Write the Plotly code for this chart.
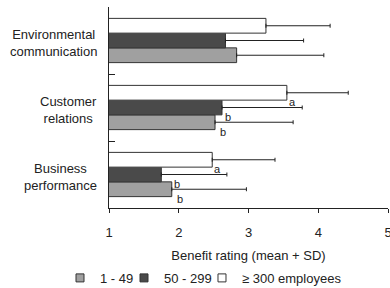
import plotly.graph_objects as go

# Data (bottom-to-top category order)
categories = ["Business<br>performance", "Customer<br>relations", "Environmental<br>communication"]
series_names = ["1 - 49", "50 - 299", "≥ 300 employees"]
grey_mean = [1.90, 2.52, 2.83]
grey_sd = [1.07, 1.12, 1.25]
dark_mean = [1.75, 2.62, 2.67]
dark_sd = [0.94, 1.15, 1.12]
white_mean = [2.48, 3.55, 3.25]
white_sd = [0.90, 0.88, 0.92]
x_ticks = [1, 2, 3, 4, 5]

# significance letters and their x positions (value units)
grey_letters = ["b", "b", ""]
dark_letters = ["b", "b", ""]
white_letters = ["a", "a", ""]
grey_letter_x = [2.02, 2.63, None]
dark_letter_x = [1.97, 2.70, None]
white_letter_x = [2.55, 3.63, None]

colors = ["#a0a0a0", "#4a4a4a", "#ffffff"]
FONT = "Liberation Sans, Arial, sans-serif"
legend_ids = ["legend", "legend2", "legend3"]
legend_x = [-0.1756, 0.0538, 0.3333]

ypos = list(range(len(categories)))
means = [grey_mean, dark_mean, white_mean]
sds = [grey_sd, dark_sd, white_sd]
letters = [grey_letters, dark_letters, white_letters]
letter_x = [grey_letter_x, dark_letter_x, white_letter_x]

fig = go.Figure()
for i in range(3):
    fig.add_trace(go.Bar(
        x=means[i], y=ypos, orientation="h", name=series_names[i],
        marker=dict(color=colors[i], line=dict(color="#333333", width=1)),
        error_x=dict(type="data", symmetric=False, array=sds[i],
                     arrayminus=[0] * len(ypos), color="#222222", thickness=1, width=2),
        showlegend=False,
    ))
    # legend proxy
    fig.add_trace(go.Scatter(
        x=[None], y=[None], mode="markers", name=series_names[i], legend=legend_ids[i],
        marker=dict(symbol="square", size=8, color=colors[i],
                    line=dict(color="#333333", width=1)),
    ))

gap = 0.34
bw = (1 - gap) / 3
annotations = []
for i in range(3):
    off = (i - 1) * bw
    for j, t in enumerate(letters[i]):
        if t:
            annotations.append(dict(
                x=letter_x[i][j], y=ypos[j] + off - bw / 2, xref="x", yref="y",
                text=t, showarrow=False, xanchor="center", yanchor="middle",
                yshift=-2, font=dict(size=11, family=FONT, color="#222222"),
            ))
for j, c in enumerate(categories):
    annotations.append(dict(
        x=0, y=ypos[j], xref="paper", yref="y", text=c, showarrow=False,
        xanchor="right", yanchor="middle", align="center", xshift=-10, yshift=-2,
        font=dict(size=13, family=FONT, color="#222222"),
    ))

legend_common = dict(orientation="h", xref="paper", yref="paper", xanchor="left",
                     y=-0.348, yanchor="middle", bgcolor="rgba(0,0,0,0)",
                     font=dict(size=13, family=FONT, color="#222222"), itemwidth=30)

fig.update_layout(
    width=390, height=288,
    margin=dict(l=109, r=2, t=7, b=80, autoexpand=False),
    paper_bgcolor="white", plot_bgcolor="white",
    barmode="group", bargap=gap, bargroupgap=0,
    font=dict(family=FONT, size=13, color="#222222"),
    annotations=annotations,
    legend=dict(x=legend_x[0], **legend_common),
    legend2=dict(x=legend_x[1], **legend_common),
    legend3=dict(x=legend_x[2], **legend_common),
    xaxis=dict(range=[1, 5], tickvals=x_ticks, ticks="outside", ticklen=4,
               tickcolor="#222222", showline=True, linecolor="#222222", linewidth=1,
               showgrid=False, zeroline=False, ticklabelstandoff=8, automargin=False,
               ticklabeloverflow="allow",
               title=dict(text="Benefit rating (mean + SD)", standoff=12,
                          font=dict(size=13, family=FONT))),
    xaxis2=dict(range=[1, 5], tickvals=x_ticks, ticks="inside", ticklen=5,
                tickcolor="#222222", overlaying="x", anchor="y", side="bottom",
                showticklabels=False, showline=False, showgrid=False, zeroline=False,
                automargin=False),
    yaxis=dict(range=[-0.5, 2.5], tickvals=[-0.5, 0.5, 1.5, 2.5], ticks="inside",
               ticklen=6, tickcolor="#222222", showticklabels=False, showline=True,
               linecolor="#222222", linewidth=1, showgrid=False, zeroline=False,
               automargin=False),
)

fig.write_html("out.html", config={"displayModeBar": False},
               post_script="document.body.style.margin='0px';")
